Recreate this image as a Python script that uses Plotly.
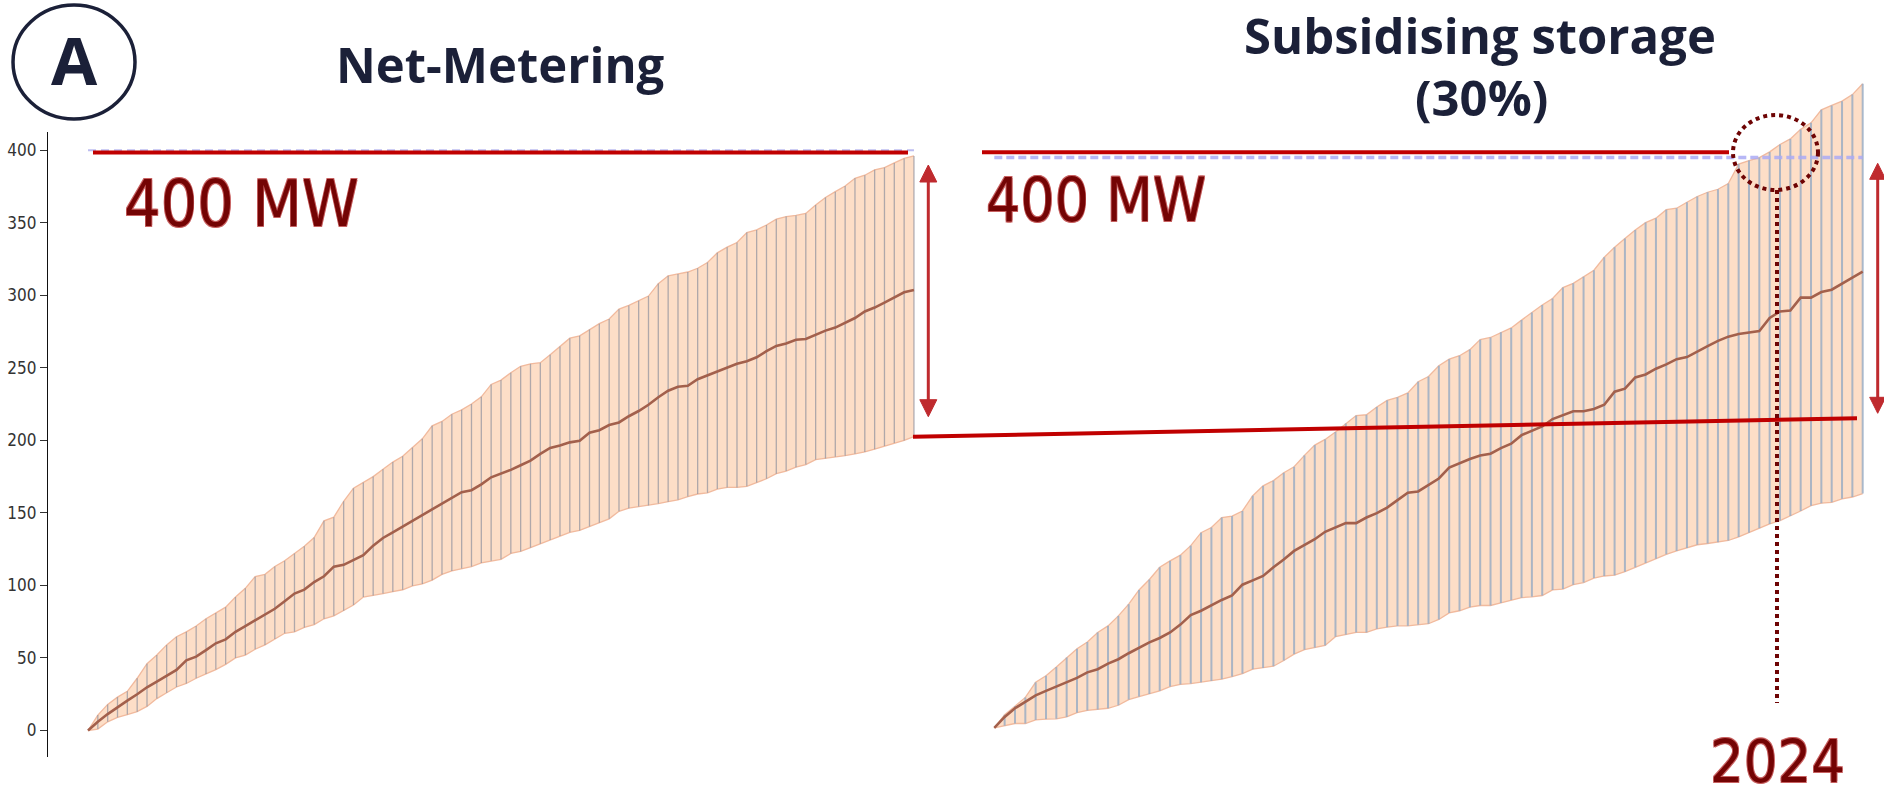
import plotly.graph_objects as go

W, H = 1884, 798

# monthly steps of the simulated deployment
months = list(range(85))
target_mw = 400
ytick_vals = [0, 50, 100, 150, 200, 250, 300, 350, 400]

# Net-Metering scenario (MW)
nm_mean = [0, 6.0, 11.3, 16.1, 20.6, 25.0, 29.8, 33.7, 37.7, 41.7,
           48.3, 50.9, 55.4, 60.1, 62.8, 68.0, 72.0, 75.9, 79.9, 83.9,
           89.1, 94.4, 97.1, 102.3, 106.3, 112.9, 114.2, 117.4, 120.8, 127.4,
           132.7, 136.6, 140.6, 144.5, 148.5, 152.5, 156.4, 160.4, 164.3, 165.6,
           169.6, 174.5, 177.0, 179.6, 182.8, 186.0, 190.7, 194.7, 196.5, 198.6,
           199.7, 205.2, 207.0, 210.5, 212.3, 216.6, 220.2, 224.5, 229.7, 234.2,
           236.9, 237.6, 242.1, 244.8, 247.4, 250.0, 252.7, 254.5, 257.2, 261.4,
           265.1, 266.7, 269.3, 269.8, 272.5, 275.6, 277.7, 280.9, 284.3, 288.8,
           291.5, 294.9, 298.3, 302.0, 303.6]
nm_upper = [0, 10.6, 18, 23, 27, 36, 46, 52, 59, 64.6,
            68, 72, 77, 81, 85, 92, 98, 106, 107.6, 113,
            117, 122, 127, 133, 144.5, 147, 158, 167, 171, 175,
            180, 185, 189, 195, 201, 210, 213, 218, 221, 225,
            230, 238.5, 241.5, 246.6, 251, 252.7, 253.5, 259, 264.6, 270.4,
            272, 276.4, 280.4, 283.6, 290.4, 293, 296.2, 299.4, 308, 313.4,
            314.7, 316, 318.6, 322.6, 329.2, 333.1, 336.3, 343.2, 345, 348.4,
            352.4, 354.2, 355, 356.4, 362.2, 367.4, 371.4, 375.3, 380.6, 382.7,
            386.4, 388, 391.2, 394.3, 396]
nm_lower = [0, 1, 6, 9, 11, 13, 16.6, 22, 26, 30,
            32.4, 36, 39, 42, 45.6, 50, 52, 56, 59, 63,
            67, 68, 71, 73, 77, 79, 82.5, 86.5, 92, 93,
            94.4, 95.7, 97, 99.7, 101, 103.6, 107.6, 110, 111.6, 113,
            115.5, 117, 118, 122, 123.4, 126, 128.7, 131.3, 134, 136.6,
            137.9, 140.6, 143.2, 145.9, 151.1, 153.2, 154.3, 155.1, 156.4, 157.7,
            159, 161.2, 163, 163.8, 166.4, 167.5, 167.5, 168.3, 170.9, 173.5,
            177, 178.8, 181.5, 183.3, 186.7, 187.5, 188.6, 189.4, 190.7, 192,
            193.9, 196, 198.1, 199.9, 202.6]

# Storage subsidy (30%) scenario (MW)
st_mean = [0, 7.6, 13.7, 18.3, 22.8, 25.9, 28.9, 31.9, 35, 38.9,
           41.1, 45, 48.1, 52.3, 56.3, 59.9, 63, 66.9, 72.4, 79.1,
           82.1, 85.8, 89.7, 92.8, 100.4, 103.4, 106.5, 112.6, 118, 124.1,
           128.4, 132.3, 137.5, 140.5, 143.6, 143.6, 147.5, 150.6, 154.5, 159.7,
           164.9, 165.8, 170.4, 174.9, 182.5, 185.6, 188.6, 191, 192.3, 196.2,
           199.3, 205.3, 208.4, 211.4, 216.6, 219.6, 222.1, 222.1, 223.6, 226.6,
           235.8, 237.9, 245.8, 247.9, 251.9, 254.9, 258.6, 260.1, 264.1, 267.7,
           271.4, 274.4, 276.2, 277.4, 278.4, 287.5, 292.1, 292.7, 301.8, 301.8,
           305.7, 307.3, 311.8, 315.8, 320]
st_upper = [0, 9.1, 15.2, 21.3, 31.9, 36.5, 42.6, 49.3, 55.4, 60.2,
            66.9, 71.5, 78.5, 86.7, 96.7, 104, 112.6, 117.1, 121.1, 127.8,
            136.9, 140.5, 147.5, 148.5, 152.1, 162.8, 169.7, 173.4, 178.9, 183.1,
            191.1, 198.3, 202.3, 207.5, 213.5, 219, 219.6, 225.1, 229.7, 231.8,
            234.9, 242.8, 246.4, 254, 258.6, 261, 265.3, 272.3, 273.8, 277.4,
            280.5, 286, 291.4, 296.6, 301.2, 308.8, 311.8, 316.4, 321, 330.1,
            337.1, 343.2, 349.2, 354.4, 357.5, 363.5, 364.5, 368.7, 372.7, 375.7,
            377.8, 381.8, 395.5, 397.9, 400, 404, 409.2, 413.1, 419.8, 424.4,
            433.5, 436.6, 439.6, 444.2, 451.8]
st_lower = [0, 1.5, 3, 3, 5.5, 6.1, 6.3, 7.6, 10.6, 12.2,
            12.8, 13.7, 15.8, 19.8, 21.9, 23.7, 25.9, 28.9, 30.4, 31,
            31.9, 32.9, 34.1, 35.9, 38, 41.1, 42, 43.2, 47.2, 51.7,
            54.8, 56.3, 57.8, 63.9, 65.4, 66.9, 66.9, 69.4, 70.6, 71.5,
            71.5, 72.4, 73, 76, 80.6, 82.1, 84.6, 85.8, 85.8, 87.6,
            89.7, 91.3, 91.9, 92.8, 96.7, 97.3, 100.4, 101.9, 105, 106.5,
            107.1, 109.5, 112.6, 115.6, 118.6, 121.7, 124.1, 126.2, 128.4, 129.3,
            130.2, 131.4, 133.9, 136.9, 139.9, 143, 145.4, 148.5, 152.1, 155.8,
            157.6, 158.2, 160.6, 161.9, 164.3]

FILL = "rgb(253,222,199)"
EDGE = "rgba(240,180,150,0.9)"
MEAN = "rgb(163,96,76)"

fig = go.Figure()


def add_band(xa, ya, lower, upper, mean, rib_color, rib_width):
    common = dict(xaxis=xa, yaxis=ya, hoverinfo="skip", showlegend=False)
    fig.add_trace(go.Scatter(x=months, y=lower, mode="lines",
                             line=dict(color=EDGE, width=1.3), **common))
    fig.add_trace(go.Scatter(x=months, y=upper, mode="lines", fill="tonexty",
                             fillcolor=FILL, line=dict(color=EDGE, width=1.3),
                             **common))
    rx, ry = [], []
    for m, lo, hi in zip(months, lower, upper):
        rx += [m, m, None]
        ry += [lo, hi, None]
    fig.add_trace(go.Scatter(x=rx, y=ry, mode="lines",
                             line=dict(color=rib_color, width=rib_width),
                             **common))
    fig.add_trace(go.Scatter(x=months, y=mean, mode="lines",
                             line=dict(color=MEAN, width=2.6), **common))


add_band("x", "y", nm_lower, nm_upper, nm_mean, "rgba(150,150,160,0.75)", 1.3)
add_band("x2", "y2", st_lower, st_upper, st_mean, "rgba(150,170,195,0.8)", 2)

# 400 MW reference lines
fig.add_trace(go.Scatter(x=[months[0], months[-1]], y=[target_mw, target_mw],
                         mode="lines", xaxis="x", yaxis="y", hoverinfo="skip",
                         showlegend=False,
                         line=dict(color="rgba(165,165,235,0.75)", width=2,
                                   dash="8px,5px")))
fig.add_trace(go.Scatter(x=[months[0], months[-1]], y=[target_mw, target_mw],
                         mode="lines", xaxis="x2", yaxis="y2", hoverinfo="skip",
                         showlegend=False,
                         line=dict(color="rgba(170,170,245,0.85)", width=3.5,
                                   dash="8px,4px")))


def px(x):
    return x / W


def py(y):
    return 1 - y / H


shapes = []


def seg(x0, y0, x1, y1, color, width, dash=None):
    line = dict(color=color, width=width)
    if dash:
        line["dash"] = dash
    shapes.append(dict(type="line", xref="paper", yref="paper",
                       x0=px(x0), y0=py(y0), x1=px(x1), y1=py(y1),
                       line=line, layer="above"))


def double_arrow(x, top, bottom, color, half=8.5, head=17):
    seg(x, top + head - 2, x, bottom - head + 2, color, 3)
    for tip, base in ((top, top + head), (bottom, bottom - head)):
        path = (f"M {px(x)},{py(tip)} L {px(x - half)},{py(base)} "
                f"L {px(x + half)},{py(base)} Z")
        shapes.append(dict(type="path", xref="paper", yref="paper", path=path,
                           fillcolor=color, line=dict(color=color, width=1),
                           layer="above"))


RED = "#c00000"
ARROW = "#bf2a2e"
MAROON = "#6e0404"

# panel marker
shapes.append(dict(type="circle", xref="paper", yref="paper",
                   x0=px(13), x1=px(135), y0=py(5), y1=py(119),
                   line=dict(color="#1b2038", width=3.5), layer="above"))

seg(93, 152.4, 908, 152.4, RED, 4)
seg(982, 152.3, 1729, 152.3, RED, 4)
seg(913, 436.7, 1857, 418.3, RED, 4)

double_arrow(928.3, 165, 416.7, ARROW)
double_arrow(1877.7, 163.3, 413.3, ARROW, half=8, head=16)

shapes.append(dict(type="circle", xref="paper", yref="paper",
                   x0=px(1733), x1=px(1818), y0=py(115), y1=py(190),
                   line=dict(color=MAROON, width=4, dash="4px,4px"),
                   layer="above"))
seg(1777, 190, 1777, 703, MAROON, 4, dash="4px,4px")

TITLE_FONT = dict(family="Open Sans, Noto Sans, sans-serif", size=49,
                  color="#1b2038", weight="bold")
oc = "#c86262"
outline = (f"0.7px 0.7px 0 {oc}, -0.7px -0.7px 0 {oc}, "
           f"0.7px -0.7px 0 {oc}, -0.7px 0.7px 0 {oc}")
MW_FONT = dict(family="DejaVu Sans Condensed, DejaVu Sans", color="#740404",
               shadow=outline)


def label(text, x, y, font, yanchor="middle"):
    return dict(text=text, x=px(x), y=py(y), xref="paper", yref="paper",
                xanchor="center", yanchor=yanchor, showarrow=False,
                font=font)


annotations = [
    label("A", 74, 59, dict(TITLE_FONT, size=67)),
    label("Net-Metering", 500, 64, TITLE_FONT),
    label("Subsidising storage", 1480, 0, TITLE_FONT, yanchor="top"),
    label("(30%)", 1481, 97, TITLE_FONT),
    label("400 MW", 241.5, 204, dict(MW_FONT, size=64)),
    label("400 MW", 1096, 200, dict(MW_FONT, size=60)),
    label("2024", 1777.5, 798, dict(MW_FONT, size=59), yanchor="bottom"),
]

fig.update_layout(
    width=W, height=H,
    margin=dict(l=0, r=0, t=0, b=0),
    paper_bgcolor="white", plot_bgcolor="white",
    showlegend=False,
    shapes=shapes,
    annotations=annotations,
    xaxis=dict(domain=[px(48), px(930)], range=[-4.068, 85.63], visible=False,
               anchor="y"),
    yaxis=dict(domain=[py(757), py(132)], range=[-18.27, 412.5], anchor="x",
               showline=True, linecolor="#111", linewidth=1.3,
               ticks="outside", ticklen=7, tickwidth=1.2, tickcolor="#333",
               tickvals=ytick_vals, showgrid=False, zeroline=False,
               tickfont=dict(family="Liberation Sans Narrow, DejaVu Sans Condensed, Liberation Sans",
                             size=17, color="#333")),
    xaxis2=dict(domain=[px(960), 1], range=[-3.318, 86.06], visible=False,
                anchor="y2"),
    yaxis2=dict(domain=[0, 1], range=[-49.25, 510.56], visible=False,
                anchor="x2"),
)

fig.write_html("out.html")
